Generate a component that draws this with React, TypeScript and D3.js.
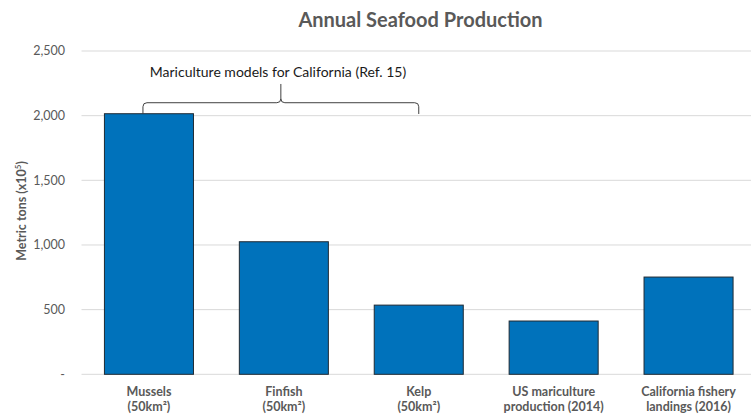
import * as d3 from 'd3';
import { useMemo } from 'react';

// Chart data
const categories = ['Mussels', 'Finfish', 'Kelp', 'US mariculture', 'California fishery'];
const categoryLines = [
  ['Mussels', '(50km²)'],
  ['Finfish', '(50km²)'],
  ['Kelp', '(50km²)'],
  ['US mariculture', 'production (2014)'],
  ['California fishery', 'landings (2016)'],
];
const production = [2015, 1025, 535, 412, 752];
const yTicks = [0, 500, 1000, 1500, 2000, 2500];
const braceFrom = 'Mussels';
const braceTo = 'Kelp';
const braceLabel = 'Mariculture models for California (Ref. 15)';

const WIDTH = 751;
const HEIGHT = 416;
const MARGIN = { top: 51, right: -5, bottom: 41.7, left: 81.5 };
const TEXT = '#595959';
const FONT = 'Lato, "Open Sans", sans-serif';

export default function App() {
  const xScale = useMemo(
    () =>
      d3.scaleBand<string>()
        .domain(categories)
        .range([MARGIN.left, WIDTH - MARGIN.right])
        .paddingInner(0.34)
        .paddingOuter(0.17),
    []
  );

  const yScale = useMemo(
    () =>
      d3.scaleLinear()
        .domain([0, 2500])
        .range([HEIGHT - MARGIN.bottom, MARGIN.top]),
    []
  );

  const fmt = d3.format(',');
  const bw = xScale.bandwidth();

  // brace spanning the mariculture model bars
  const bx0 = (xScale(braceFrom) ?? 0) + bw / 2 - 6;
  const bx1 = (xScale(braceTo) ?? 0) + bw / 2;
  const bmid = (bx0 + bx1) / 2;
  const bTop = yScale(2100);
  const bBot = yScale(2013);
  const bTip = yScale(2245);
  const r = 4;
  const bracePath = [
    `M${bx0},${bBot}`,
    `L${bx0},${bTop + r}`,
    `Q${bx0},${bTop} ${bx0 + r},${bTop}`,
    `L${bmid - r},${bTop}`,
    `Q${bmid},${bTop} ${bmid},${bTop - r}`,
    `L${bmid},${bTip}`,
    `M${bmid},${bTop - r}`,
    `Q${bmid},${bTop} ${bmid + r},${bTop}`,
    `L${bx1 - r},${bTop}`,
    `Q${bx1},${bTop} ${bx1},${bTop + r}`,
    `L${bx1},${bBot}`,
  ].join(' ');

  return (
    <svg
      width={WIDTH}
      height={HEIGHT}
      style={{ position: 'absolute', left: 0, top: 0, background: '#fff' }}
      fontFamily={FONT}
    >
      {/* Title */}
      <text x={420.5} y={26.5} textAnchor="middle" fontSize={20} fontWeight="bold" fill={TEXT}>
        Annual Seafood Production
      </text>

      {/* Gridlines + y tick labels */}
      {yTicks.map((t) => (
        <g key={t}>
          <line
            x1={MARGIN.left}
            x2={WIDTH}
            y1={yScale(t)}
            y2={yScale(t)}
            stroke="#d9d9d9"
            strokeWidth={1}
          />
          <text x={65} y={yScale(t)} dy="0.35em" textAnchor="end" fontSize={12.5} fill={TEXT}>
            {t === 0 ? '-' : fmt(t)}
          </text>
        </g>
      ))}

      {/* Y axis title */}
      <text
        transform={`translate(22,211) rotate(-90)`}
        textAnchor="middle"
        dy="0.35em"
        fontSize={12.5}
        fontWeight="bold"
        fill={TEXT}
      >
        Metric tons (x10<tspan dy="-5" fontSize={8}>5</tspan><tspan dy="5">)</tspan>
      </text>

      {/* Bars */}
      {categories.map((c, i) => (
        <rect
          key={c}
          x={xScale(c)}
          y={yScale(production[i])}
          width={bw}
          height={yScale(0) - yScale(production[i])}
          fill="#0072BB"
          stroke="#1f2a33"
          strokeWidth={1}
        />
      ))}

      {/* Category labels, one text per line */}
      {categories.map((c, i) =>
        categoryLines[i].map((line, j) => (
          <text
            key={`${c}-${j}`}
            x={(xScale(c) ?? 0) + bw / 2}
            y={396 + j * 14.5}
            textAnchor="middle"
            fontSize={12.5}
            fontWeight="bold"
            fill={TEXT}
          >
            {line}
          </text>
        ))
      )}

      {/* Brace annotation */}
      <path d={bracePath} fill="none" stroke="#404040" strokeWidth={1} />
      <text x={278} y={77} textAnchor="middle" fontSize={14} fill="#1a1a1a">
        {braceLabel}
      </text>
    </svg>
  );
}
